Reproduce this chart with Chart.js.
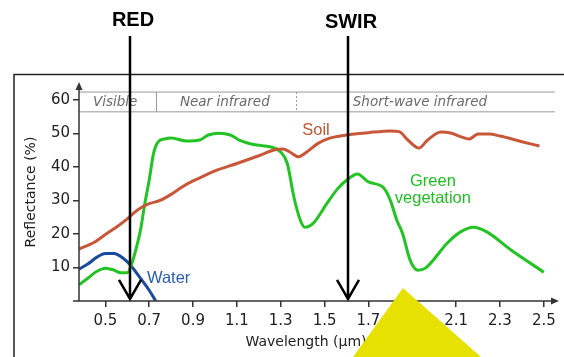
<!DOCTYPE html>
<html>
<head>
<meta charset="utf-8">
<script src="https://cdn.jsdelivr.net/npm/chart.js@4/dist/chart.umd.min.js"></script>
<style>
  html, body { margin: 0; padding: 0; background: #fff; }
</style>
</head>
<body>
<canvas id="spectra" width="564" height="357"></canvas>
<script>
// reflectance spectra (wavelength in um, reflectance in %)
const soilWl   = [0.38,0.45,0.5,0.55,0.6,0.65,0.7,0.75,0.8,0.85,0.9,0.95,1.0,1.1,1.2,1.27,1.31,1.34,1.38,1.42,1.47,1.52,1.6,1.7,1.8,1.84,1.88,1.93,1.97,2.03,2.08,2.12,2.16,2.2,2.25,2.3,2.4,2.48];
const soilRefl = [15.5,17.5,19.8,22,24.5,27.3,29,30,31.8,34,35.8,37.3,38.8,41,43.3,45,45.3,44.5,43,44.5,47,48.5,49.5,50.2,50.7,50.5,48,45.6,48,50.4,50,49,48.3,49.8,49.8,49.2,47.5,46.2];

const vegWl   = [0.38,0.42,0.46,0.5,0.54,0.57,0.6,0.62,0.64,0.66,0.68,0.7,0.72,0.74,0.77,0.8,0.87,0.93,0.97,1.02,1.07,1.11,1.19,1.25,1.3,1.33,1.36,1.39,1.41,1.45,1.51,1.56,1.6,1.65,1.7,1.77,1.8,1.83,1.855,1.89,1.925,1.96,2.06,2.12,2.18,2.24,2.35,2.5];
const vegRefl = [4.8,6.8,8.8,9.8,9.2,8.4,8.4,11,15.5,21,29,36,44,47.4,48.3,48.6,47.7,48,49.5,50,49.5,48,46.5,46,44.4,41,31,24,22,23.3,29,33.5,36,37.9,35.5,33.7,30,24,20.3,12.2,9.2,9.8,17.3,20.6,22,20.6,15.2,8.6];

const waterWl   = [0.38,0.42,0.46,0.5,0.54,0.58,0.62,0.66,0.7,0.73];
const waterRefl = [9.5,11,13,14.2,14.2,12.8,10.3,6.8,3.2,0];

const xTicks = [0.5,0.7,0.9,1.1,1.3,1.5,1.7,1.9,2.1,2.3,2.5];
const yTicks = [10,20,30,40,50,60];

const bandNames   = ['Visible','Near infrared','Short-wave infrared'];
const bandLabelAt = [0.545, 1.045, 1.935];
const bandEdges   = [0.731, 1.37];   // solid, dashed
const bandEnd     = 2.55;

const arrowNames = ['RED','SWIR'];
const arrowWl    = [0.612, 1.607];

function pts(xs, ys){ return xs.map((w,i) => ({x: w, y: ys[i]})); }

const decor = {
  id: 'decor',
  afterDraw(chart){
    const ctx = chart.ctx, a = chart.chartArea, x = chart.scales.x, y = chart.scales.y;
    ctx.save();

    // outer frame
    ctx.strokeStyle = '#222'; ctx.lineWidth = 1.5;
    ctx.beginPath(); ctx.moveTo(14, 357); ctx.lineTo(14, 74.5); ctx.lineTo(564, 74.5); ctx.stroke();

    // band header
    const hTop = y.getPixelForValue(62.3), hBot = y.getPixelForValue(56.4), hEnd = x.getPixelForValue(bandEnd);
    ctx.strokeStyle = '#9a9a9a'; ctx.lineWidth = 1;
    ctx.beginPath();
    ctx.moveTo(a.left, hTop); ctx.lineTo(hEnd, hTop);
    ctx.moveTo(a.left, hBot); ctx.lineTo(hEnd, hBot);
    const d1 = Math.round(x.getPixelForValue(bandEdges[0])) + 0.5;
    ctx.moveTo(d1, hTop); ctx.lineTo(d1, hBot);
    ctx.stroke();
    ctx.setLineDash([2,2]);
    const d2 = Math.round(x.getPixelForValue(bandEdges[1])) + 0.5;
    ctx.beginPath(); ctx.moveTo(d2, hTop); ctx.lineTo(d2, hBot); ctx.stroke();
    ctx.setLineDash([]);
    ctx.fillStyle = '#6a6a6a'; ctx.font = 'italic 13.5px "DejaVu Sans"';
    ctx.textAlign = 'center'; ctx.textBaseline = 'middle';
    bandNames.forEach((n,i) => ctx.fillText(n, x.getPixelForValue(bandLabelAt[i]), (hTop + hBot) / 2 + 1));

    // axes with arrows
    ctx.strokeStyle = '#333'; ctx.fillStyle = '#333'; ctx.lineWidth = 1.5;
    ctx.beginPath();
    ctx.moveTo(a.left - 6, a.bottom); ctx.lineTo(a.right - 2, a.bottom);
    ctx.moveTo(a.left, a.bottom); ctx.lineTo(a.left, a.top + 4);
    ctx.stroke();
    ctx.beginPath(); ctx.moveTo(a.left, a.top - 1); ctx.lineTo(a.left - 3.5, a.top + 7); ctx.lineTo(a.left + 3.5, a.top + 7); ctx.closePath(); ctx.fill();
    ctx.beginPath(); ctx.moveTo(a.right + 2, a.bottom); ctx.lineTo(a.right - 6, a.bottom - 3.5); ctx.lineTo(a.right - 6, a.bottom + 3.5); ctx.closePath(); ctx.fill();

    // axis titles
    ctx.fillStyle = '#222'; ctx.font = '14px "DejaVu Sans"';
    ctx.fillText('Wavelength (\u00b5m)', 306, 342);
    ctx.save(); ctx.translate(31, 192); ctx.rotate(-Math.PI / 2);
    ctx.fillText('Reflectance (%)', 0, 0); ctx.restore();

    // curve labels
    ctx.font = '16.5px "Liberation Sans"';
    ctx.fillStyle = '#c0552f'; ctx.fillText('Soil', x.getPixelForValue(1.461), y.getPixelForValue(51));
    ctx.fillStyle = '#1fbf1f';
    ctx.fillText('Green', x.getPixelForValue(1.994), y.getPixelForValue(35.5));
    ctx.fillText('vegetation', x.getPixelForValue(1.994), y.getPixelForValue(30.7));
    ctx.fillStyle = '#2a5cb0'; ctx.textAlign = 'left';
    ctx.fillText('Water', x.getPixelForValue(0.69), y.getPixelForValue(6.6));

    // band arrows
    ctx.strokeStyle = '#000'; ctx.fillStyle = '#000'; ctx.lineWidth = 2.5;
    ctx.font = 'bold 20px "Liberation Sans"'; ctx.textAlign = 'center';
    arrowWl.forEach((w,i) => {
      const px = Math.round(x.getPixelForValue(w)), tip = y.getPixelForValue(0.6);
      ctx.beginPath();
      ctx.moveTo(px, 36); ctx.lineTo(px, tip);
      ctx.moveTo(px - 11, tip - 19); ctx.lineTo(px, tip); ctx.lineTo(px + 11, tip - 19);
      ctx.stroke();
      ctx.fillText(arrowNames[i], px + 3, 20 + i * 2);
    });

    // yellow overlay from the source picture
    ctx.fillStyle = '#e6e100';
    ctx.beginPath(); ctx.moveTo(403, 288); ctx.lineTo(481, 357); ctx.lineTo(353, 357); ctx.closePath(); ctx.fill();

    ctx.restore();
  }
};

new Chart(document.getElementById('spectra'), {
  type: 'line',
  data: {
    datasets: [
      {label: 'Soil', data: pts(soilWl, soilRefl), borderColor: '#c8573a'},
      {label: 'Green vegetation', data: pts(vegWl, vegRefl), borderColor: '#22c322'},
      {label: 'Water', data: pts(waterWl, waterRefl), borderColor: '#1a4aa0'}
    ]
  },
  options: {
    responsive: false,
    animation: false,
    events: [],
    layout: {padding: {left: 0, top: 83, right: 7, bottom: 0}},
    plugins: {legend: {display: false}, tooltip: {enabled: false}},
    elements: {
      point: {radius: 0},
      line: {borderWidth: 3, fill: false, cubicInterpolationMode: 'monotone'}
    },
    scales: {
      x: {
        type: 'linear', min: 0.38, max: 2.56,
        afterBuildTicks: s => { s.ticks = xTicks.map(v => ({value: v})); },
        afterFit: s => { s.height = 56; },
        grid: {drawOnChartArea: false, tickLength: 6, color: '#333', lineWidth: 1.5},
        border: {display: false},
        ticks: {color: '#222', font: {family: 'DejaVu Sans', size: 15}, padding: 5,
                maxRotation: 0, autoSkip: false, callback: v => v.toFixed(1)}
      },
      y: {
        type: 'linear', min: 0, max: 65,
        afterBuildTicks: s => { s.ticks = yTicks.map(v => ({value: v})); },
        afterFit: s => { s.width = 79; },
        grid: {drawOnChartArea: false, tickLength: 6, color: '#333', lineWidth: 1.5},
        border: {display: false},
        ticks: {color: '#222', font: {family: 'DejaVu Sans', size: 15}, padding: 3}
      }
    }
  },
  plugins: [decor]
});
</script>
</body>
</html>
